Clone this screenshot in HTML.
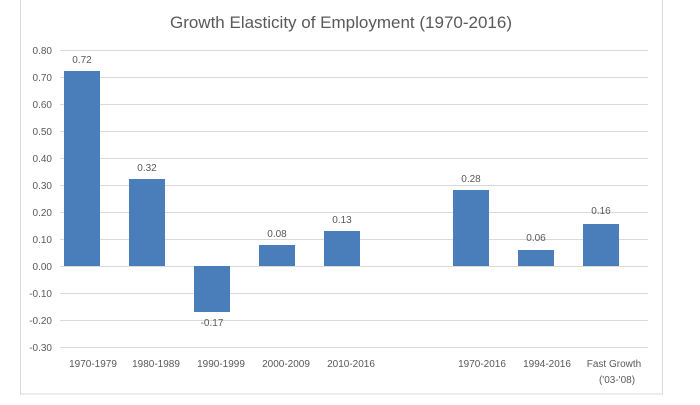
<!DOCTYPE html>
<html><head><style>
body{margin:0;background:#fff;}
svg text{font-family:"Liberation Sans",sans-serif;fill:#595959;}
</style></head><body>
<svg width="700" height="400" xmlns="http://www.w3.org/2000/svg">
<rect x="20.5" y="-1" width="642" height="395" fill="#fff" stroke="#d9d9d9"/>
<text x="341" y="28" font-size="17" text-anchor="middle">Growth Elasticity of Employment (1970-2016)</text>
<g stroke="#d9d9d9" stroke-width="1">
<line x1="60" x2="648" y1="50.5" y2="50.5"/><line x1="60" x2="648" y1="77.5" y2="77.5"/>
<line x1="60" x2="648" y1="104.5" y2="104.5"/><line x1="60" x2="648" y1="131.5" y2="131.5"/>
<line x1="60" x2="648" y1="158.5" y2="158.5"/><line x1="60" x2="648" y1="185.5" y2="185.5"/>
<line x1="60" x2="648" y1="212.5" y2="212.5"/><line x1="60" x2="648" y1="239.5" y2="239.5"/>
<line x1="60" x2="648" y1="266.5" y2="266.5"/><line x1="60" x2="648" y1="293.5" y2="293.5"/>
<line x1="60" x2="648" y1="320.5" y2="320.5"/><line x1="60" x2="648" y1="347.5" y2="347.5"/>
</g>
<g font-size="10" text-anchor="end">
<text x="52" y="54">0.80</text><text x="52" y="81">0.70</text><text x="52" y="108">0.60</text>
<text x="52" y="135">0.50</text><text x="52" y="162">0.40</text><text x="52" y="189">0.30</text>
<text x="52" y="216">0.20</text><text x="52" y="243">0.10</text><text x="52" y="270">0.00</text>
<text x="52" y="297">-0.10</text><text x="52" y="324">-0.20</text><text x="52" y="351">-0.30</text>
</g>
<g fill="#4a7ebb">
<rect x="64" y="71" width="36" height="195"/>
<rect x="129" y="179" width="36" height="87"/>
<rect x="194" y="266" width="36" height="46"/>
<rect x="259" y="245" width="36" height="21"/>
<rect x="324" y="231" width="36" height="35"/>
<rect x="453" y="190" width="36" height="76"/>
<rect x="518" y="250" width="36" height="16"/>
<rect x="583" y="224" width="36" height="42"/>
</g>
<g font-size="10" text-anchor="middle">
<text x="82" y="63">0.72</text><text x="147" y="171">0.32</text><text x="212" y="326">-0.17</text>
<text x="277" y="237">0.08</text><text x="342" y="223">0.13</text><text x="471" y="182">0.28</text>
<text x="536" y="241">0.06</text><text x="601" y="214">0.16</text>
<text x="93" y="367">1970-1979</text><text x="156" y="367">1980-1989</text><text x="221" y="367">1990-1999</text>
<text x="286" y="367">2000-2009</text><text x="351" y="367">2010-2016</text><text x="482" y="367">1970-2016</text>
<text x="547" y="367">1994-2016</text><text x="614" y="367">Fast Growth</text><text x="617" y="383">('03-'08)</text>
</g>
</svg>
</body></html>
